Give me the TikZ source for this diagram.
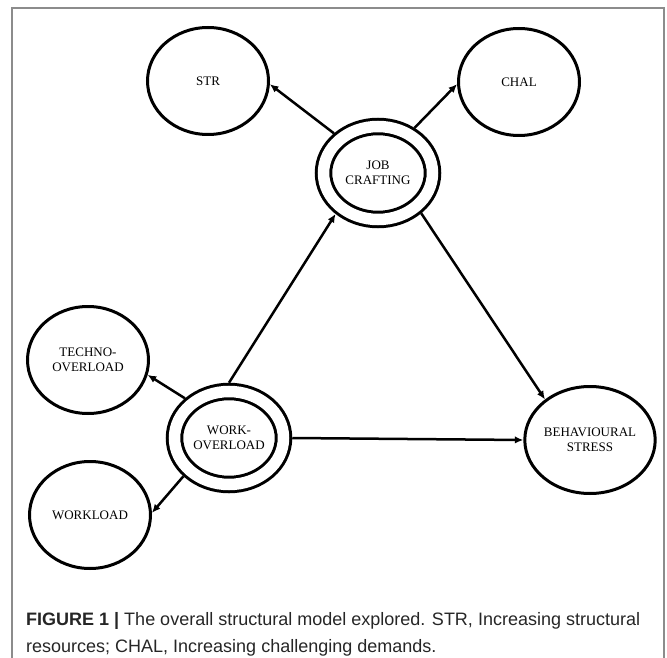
\documentclass[tikz,border=0pt]{standalone}
\usepackage{fontspec}
\setmainfont{Liberation Serif}
\newfontfamily\capfont{Liberation Sans}
\usetikzlibrary{arrows.meta,shapes.geometric}
\tikzset{
  px/.style={x=1pt, y=-1pt},
  m var/.style={ellipse, draw, line width=3pt, minimum width=121pt, minimum height=107pt, inner sep=0pt, align=center, font=\fontsize{13}{15}\selectfont},
  m core/.style={ellipse, draw, line width=3pt, double=white, double distance=11.5pt, minimum width=109pt, minimum height=93pt, inner sep=0pt, outer sep=8.75pt, align=center, font=\fontsize{13}{15}\selectfont},
  m arr/.style={-{Latex[length=8.5pt, width=7.5pt]}, line width=2.5pt},
  m frame/.style={draw=black!45, line width=1.5pt},
  m cap/.style={font=\capfont\fontsize{18}{27}\selectfont, align=left, text=black!85, inner sep=0pt},
}
\begin{document}
\begin{tikzpicture}[px]
\useasboundingbox (0,0) rectangle (667,658);
\draw[m frame] (12,660) -- (12,8) -- (664,8) -- (664,660);
% constructs
\node[m var] (str) at (208,81) {STR};
\node[m var] (chal) at (519,82) {CHAL};
\node[m core] (jc) at (378,173) {JOB\\CRAFTING};
\node[m var] (techno) at (88,360) {TECHNO-\\OVERLOAD};
\node[m core] (wo) at (229,438) {WORK-\\OVERLOAD};
\node[m var] (wl) at (90,515) {WORKLOAD};
\node[m var] (bs) at (590,440) {BEHAVIOURAL\\STRESS};
% paths
\draw[m arr] (jc.138) -- (str.-3); \draw[m arr] (jc.51) -- (chal.182);
\draw[m arr] (wo.north) -- (jc.224); \draw[m arr] (jc.317) -- (bs.138);
\draw[m arr] (wo.east) -- (bs.west);
\draw[m arr] (wo.138) -- (techno.346); \draw[m arr] (wo.220) -- (wl.2);
% caption
\node[m cap, anchor=base west] (cap) at (26,652) {{\bfseries FIGURE 1 |} The overall structural model explored. STR, Increasing structural\\resources; CHAL, Increasing challenging demands.};
\end{tikzpicture}
\end{document}
